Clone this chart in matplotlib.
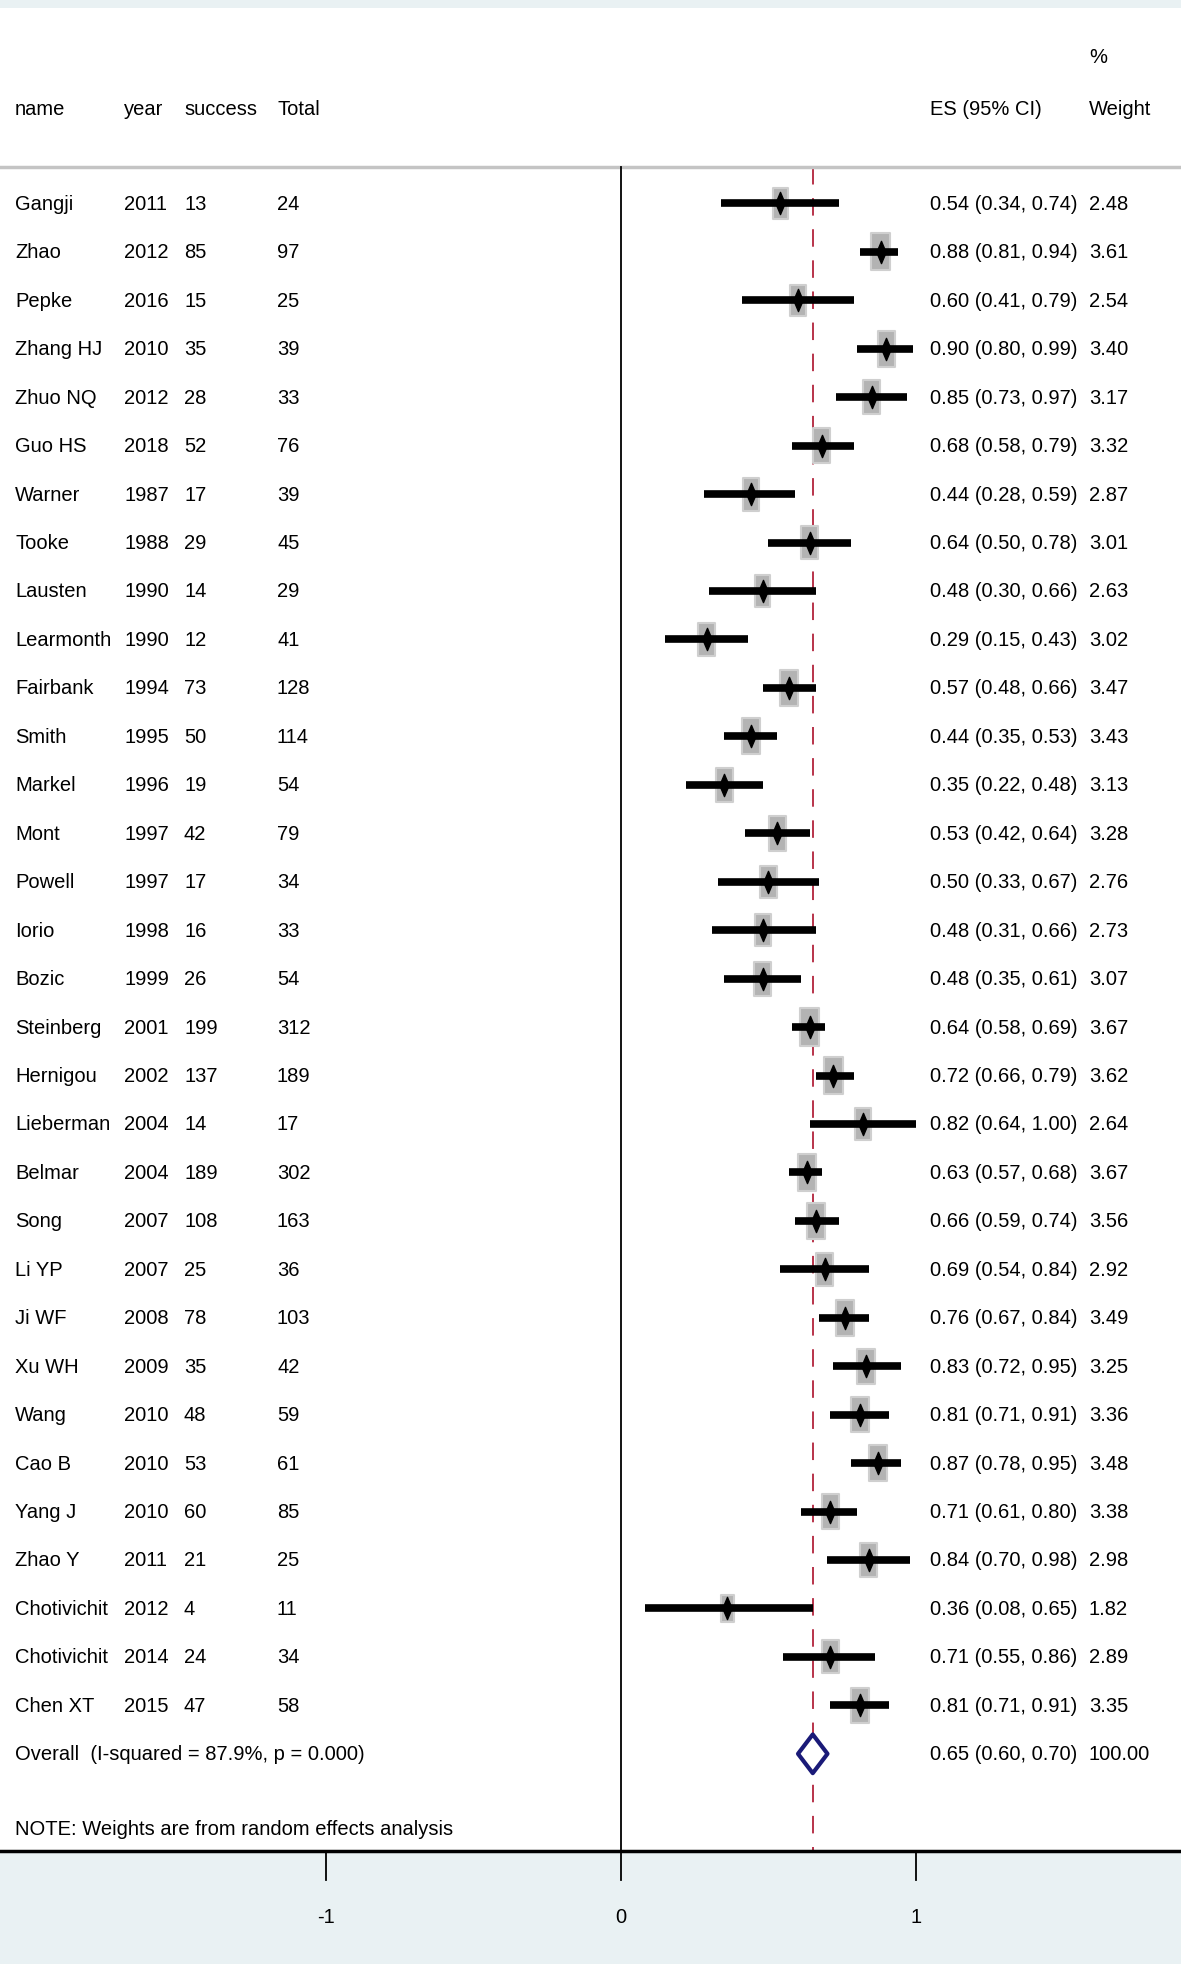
import matplotlib
matplotlib.use("Agg")
from matplotlib import pyplot as plt
from matplotlib import font_manager
from matplotlib.patches import Rectangle, Polygon
from matplotlib.path import Path

names = ["Gangji", "Zhao", "Pepke", "Zhang HJ", "Zhuo NQ", "Guo HS", "Warner", "Tooke",
         "Lausten", "Learmonth", "Fairbank", "Smith", "Markel", "Mont", "Powell", "Iorio",
         "Bozic", "Steinberg", "Hernigou", "Lieberman", "Belmar", "Song", "Li YP", "Ji WF",
         "Xu WH", "Wang", "Cao B", "Yang J", "Zhao Y", "Chotivichit", "Chotivichit", "Chen XT"]
years = [2011, 2012, 2016, 2010, 2012, 2018, 1987, 1988, 1990, 1990, 1994, 1995, 1996, 1997,
         1997, 1998, 1999, 2001, 2002, 2004, 2004, 2007, 2007, 2008, 2009, 2010, 2010, 2010,
         2011, 2012, 2014, 2015]
success = [13, 85, 15, 35, 28, 52, 17, 29, 14, 12, 73, 50, 19, 42, 17, 16, 26, 199, 137, 14,
           189, 108, 25, 78, 35, 48, 53, 60, 21, 4, 24, 47]
total = [24, 97, 25, 39, 33, 76, 39, 45, 29, 41, 128, 114, 54, 79, 34, 33, 54, 312, 189, 17,
         302, 163, 36, 103, 42, 59, 61, 85, 25, 11, 34, 58]
es = [0.54, 0.88, 0.60, 0.90, 0.85, 0.68, 0.44, 0.64, 0.48, 0.29, 0.57, 0.44, 0.35, 0.53,
      0.50, 0.48, 0.48, 0.64, 0.72, 0.82, 0.63, 0.66, 0.69, 0.76, 0.83, 0.81, 0.87, 0.71,
      0.84, 0.36, 0.71, 0.81]
lower = [0.34, 0.81, 0.41, 0.80, 0.73, 0.58, 0.28, 0.50, 0.30, 0.15, 0.48, 0.35, 0.22, 0.42,
         0.33, 0.31, 0.35, 0.58, 0.66, 0.64, 0.57, 0.59, 0.54, 0.67, 0.72, 0.71, 0.78, 0.61,
         0.70, 0.08, 0.55, 0.71]
upper = [0.74, 0.94, 0.79, 0.99, 0.97, 0.79, 0.59, 0.78, 0.66, 0.43, 0.66, 0.53, 0.48, 0.64,
         0.67, 0.66, 0.61, 0.69, 0.79, 1.00, 0.68, 0.74, 0.84, 0.84, 0.95, 0.91, 0.95, 0.80,
         0.98, 0.65, 0.86, 0.91]
weight = [2.48, 3.61, 2.54, 3.40, 3.17, 3.32, 2.87, 3.01, 2.63, 3.02, 3.47, 3.43, 3.13, 3.28,
          2.76, 2.73, 3.07, 3.67, 3.62, 2.64, 3.67, 3.56, 2.92, 3.49, 3.25, 3.36, 3.48, 3.38,
          2.98, 1.82, 2.89, 3.35]
overall = (0.65, 0.60, 0.70)
overall_label = "Overall  (I-squared = 87.9%, p = 0.000)"
note = "NOTE: Weights are from random effects analysis"
xticks = [-1, 0, 1]

# fonts: narrow face if available
installed = {f.name for f in font_manager.fontManager.ttflist}
if "Liberation Sans Narrow" in installed:
    fam, fs = ["Liberation Sans Narrow", "DejaVu Sans"], 17.5
else:
    fam, fs = ["Liberation Sans", "DejaVu Sans"], 14.5
plt.rcParams["font.family"] = fam

W, H = 1181, 1965
x0, unit = 621, 295          # pixel of x=0, pixels per unit
row0, rowh = 204.4, 48.45    # pixel of first row, row height


def prow(py):
    return (py - row0) / rowh


fig = plt.figure(figsize=(W / 100, H / 100), dpi=100)
ax = fig.add_axes([0, 0, 1, 1])
ax.set_xlim(-x0 / unit, (W - x0) / unit)
ax.set_ylim(prow(H), prow(0))
ax.axis("off")
tr = ax.get_yaxis_transform()

band = "#e9f1f3"
ax.add_patch(Rectangle((0, prow(0)), 1, prow(9) - prow(0), transform=tr, color=band, lw=0))
ax.add_patch(Rectangle((0, prow(1852)), 1, prow(H) - prow(1852), transform=tr, color=band, lw=0))

y_top, y_bot = prow(168), prow(1852)
ax.plot([0, 1], [y_top, y_top], transform=tr, color="#c4c4c4", lw=2.5, zorder=2)
ax.plot([0, 1], [y_bot, y_bot], transform=tr, color="black", lw=2.5, zorder=5)
ax.plot([0, 0], [y_top, y_bot], color="black", lw=1.3, zorder=2)
ax.plot([overall[0]] * 2, [y_top, y_bot], color="#b8334a", lw=1.4,
        dashes=(9, 7), zorder=1)

# header
col_x = [15, 124, 184, 277, 930, 1089]
hdr_y = prow(110)
for cx, t in zip(col_x, ["name", "year", "success", "Total", "ES (95% CI)", "Weight"]):
    ax.text(cx / W, hdr_y, t, transform=tr, fontsize=fs, va="center", ha="left")
ax.text(col_x[5] / W, prow(58), "%", transform=tr, fontsize=fs, va="center", ha="left")

dia = Path([(0, 1), (0.42, 0), (0, -1), (-0.42, 0), (0, 1)],
           [Path.MOVETO, Path.LINETO, Path.LINETO, Path.LINETO, Path.CLOSEPOLY])

for i in range(len(names)):
    vals = [names[i], str(years[i]), str(success[i]), str(total[i]),
            f"{es[i]:.2f} ({lower[i]:.2f}, {upper[i]:.2f})", f"{weight[i]:.2f}"]
    for cx, t in zip(col_x, vals):
        ax.text(cx / W, i, t, transform=tr, fontsize=fs, va="center", ha="left")
    s = weight[i] ** 0.5
    bw, bh = 0.033 * s, 0.40 * s
    ax.add_patch(Rectangle((es[i] - bw / 2, i - bh / 2), bw, bh, facecolor="#b3b3b3",
                           edgecolor="#cfcfcf", lw=1.5, joinstyle="round", zorder=3))
    ax.plot([lower[i], upper[i]], [i, i], color="black", lw=5.5, solid_capstyle="butt", zorder=4)
    ax.plot(es[i], i, marker=dia, ms=16, color="black", zorder=5)

yo = len(names)
ax.text(col_x[0] / W, yo, overall_label, transform=tr, fontsize=fs, va="center", ha="left")
ax.text(col_x[4] / W, yo, f"{overall[0]:.2f} ({overall[1]:.2f}, {overall[2]:.2f})",
        transform=tr, fontsize=fs, va="center", ha="left")
ax.text(col_x[5] / W, yo, "100.00", transform=tr, fontsize=fs, va="center", ha="left")
ax.add_patch(Polygon([(overall[1], yo), (overall[0], yo - 0.4), (overall[2], yo),
                      (overall[0], yo + 0.4)], closed=True, facecolor="white",
                     edgecolor="#1a1a78", lw=3, joinstyle="round", zorder=6))

ax.text(col_x[0] / W, prow(1830), note, transform=tr, fontsize=fs, va="center", ha="left")

# x axis ticks
for t in xticks:
    ax.plot([t, t], [y_bot, prow(1881)], color="black", lw=1.3, zorder=5)
    ax.text(t, prow(1918), str(t), fontsize=fs, ha="center", va="center")

fig.savefig("out.png", dpi=100)
